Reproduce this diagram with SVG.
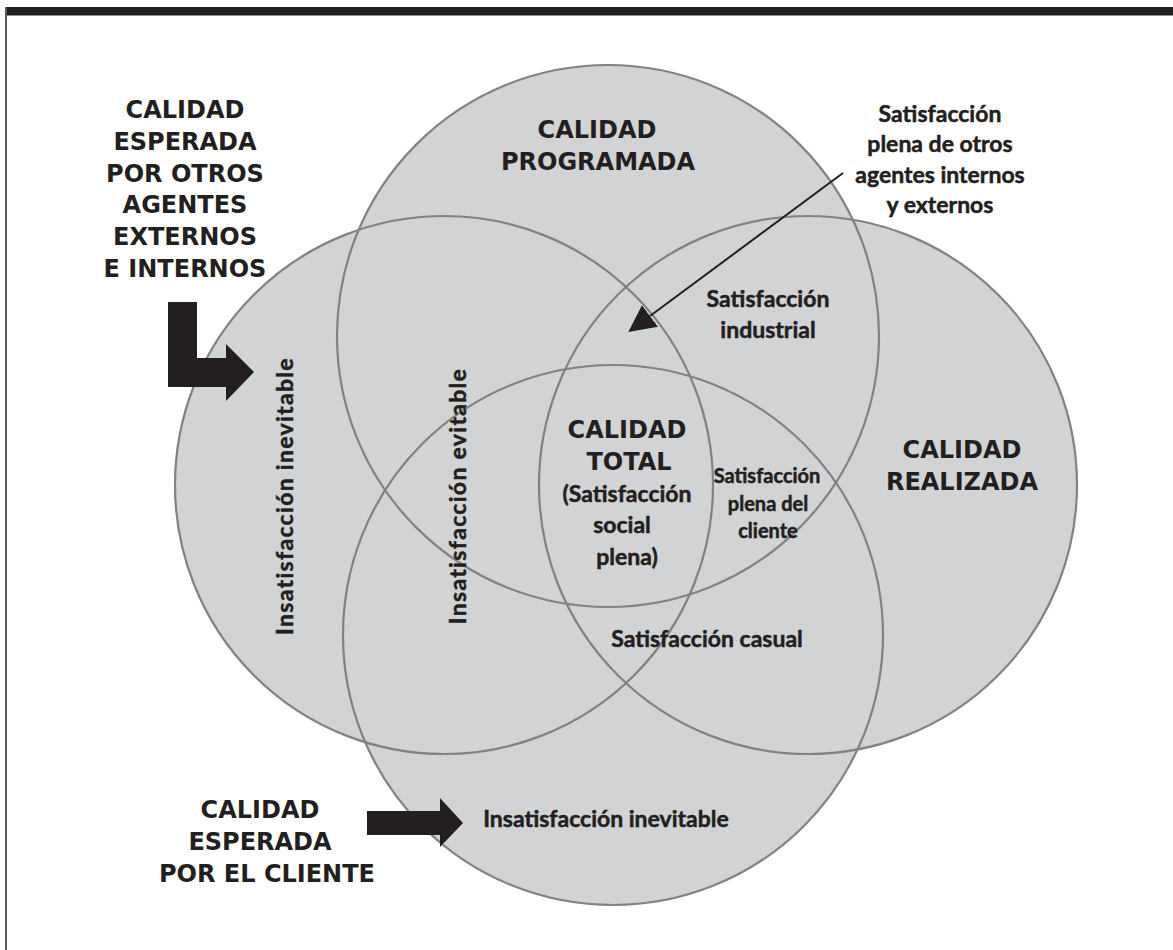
<svg xmlns="http://www.w3.org/2000/svg" width="1173" height="950" viewBox="0 0 1173 950">
<style>
.fill{fill:#d1d3d4;stroke:none}
.ring{fill:none;stroke:#808285;stroke-width:2.2}
.cap{font-family:"DejaVu Sans",sans-serif;font-weight:bold;font-size:24px;fill:#231f20;text-anchor:middle}
.lab{font-family:Lato,"Liberation Sans",sans-serif;font-weight:bold;font-size:23px;fill:#231f20;stroke:#231f20;stroke-width:0.5;text-anchor:middle}
.sm{font-size:20px}
.blk{fill:#231f20}
</style>
<defs>
<marker id="ah" viewBox="0 0 10 10" refX="0" refY="5" markerWidth="27" markerHeight="27" markerUnits="userSpaceOnUse" orient="auto">
<path d="M0,0 L10,5 L0,10 Z" fill="#231f20"/>
</marker>
</defs>
<rect width="1173" height="950" fill="#ffffff"/>
<g id="frame">
<rect x="5" y="7" width="1168" height="8.5" fill="#231f20"/>
<line x1="6" y1="7" x2="6" y2="950" stroke="#58595b" stroke-width="2"/>
</g>
<g id="fills">
<circle class="fill" cx="608" cy="336" r="271"/>
<circle class="fill" cx="444" cy="485" r="269"/>
<circle class="fill" cx="808" cy="485" r="269"/>
<circle class="fill" cx="613" cy="635" r="270"/>
</g>
<g id="circle-programada"><circle class="ring" cx="608" cy="336" r="271"/>
<text class="cap" x="597" y="138">CALIDAD</text><text class="cap" x="598" y="170">PROGRAMADA</text></g>
<g id="circle-otros"><circle class="ring" cx="444" cy="485" r="269"/></g>
<g id="circle-realizada"><circle class="ring" cx="808" cy="485" r="269"/>
<text class="cap" x="962" y="458">CALIDAD</text><text class="cap" x="962" y="490">REALIZADA</text></g>
<g id="circle-cliente"><circle class="ring" cx="613" cy="635" r="270"/></g>
<g id="label-otros">
<text class="cap" x="185" y="118">CALIDAD</text>
<text class="cap" x="185" y="150">ESPERADA</text>
<text class="cap" x="185" y="182">POR OTROS</text>
<text class="cap" x="185" y="213">AGENTES</text>
<text class="cap" x="185" y="245">EXTERNOS</text>
<text class="cap" x="185" y="277">E INTERNOS</text>
</g>
<g id="label-cliente">
<text class="cap" x="260" y="818">CALIDAD</text>
<text class="cap" x="260" y="850">ESPERADA</text>
<text class="cap" x="267" y="882">POR EL CLIENTE</text>
</g>
<g id="total">
<text class="cap" x="627" y="438">CALIDAD</text>
<text class="cap" x="629" y="470">TOTAL</text>
<text class="lab" x="627" y="502">(Satisfacción</text>
<text class="lab" x="622" y="533">social</text>
<text class="lab" x="627" y="565">plena)</text>
</g>
<g id="otros-agentes">
<text class="lab" x="940" y="122">Satisfacción</text>
<text class="lab" x="940" y="152">plena de otros</text>
<text class="lab" x="940" y="183">agentes internos</text>
<text class="lab" x="940" y="213">y externos</text>
</g>
<g id="industrial">
<text class="lab" x="768" y="307">Satisfacción</text>
<text class="lab" x="768" y="338">industrial</text>
</g>
<g id="plena-cliente">
<text class="lab sm" x="767" y="483">Satisfacción</text>
<text class="lab sm" x="768" y="511">plena del</text>
<text class="lab sm" x="768" y="538">cliente</text>
</g>
<g id="casual"><text class="lab" x="707" y="647">Satisfacción casual</text></g>
<g id="inevitable-bottom"><text class="lab" x="606" y="827">Insatisfacción inevitable</text></g>
<g id="inevitable-left"><text class="lab" transform="translate(293,496) rotate(-90)" letter-spacing="1.3">Insatisfacción inevitable</text></g>
<g id="evitable"><text class="lab" transform="translate(466,496) rotate(-90)" letter-spacing="1.3">Insatisfacción evitable</text></g>
<g id="connectors">
<polygon class="blk" points="168,302 197,302 197,358 226,358 226,344 254,372 226,401 226,387 168,387"/>
<polygon class="blk" points="367,811 440,811 440,798 463,823 440,847 440,835 367,835"/>
<line x1="843" y1="173" x2="650" y2="316" stroke="#231f20" stroke-width="2" marker-end="url(#ah)"/>
</g>
</svg>
